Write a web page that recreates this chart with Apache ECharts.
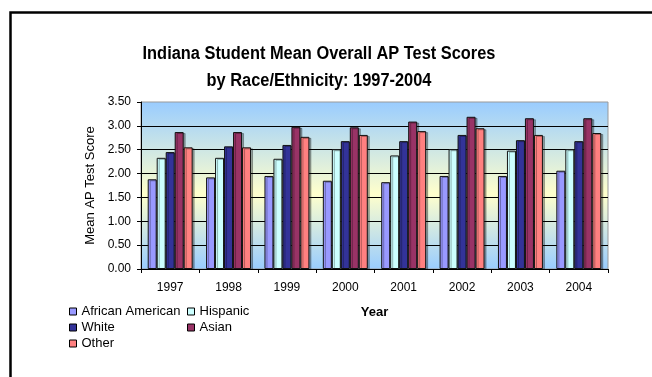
<!DOCTYPE html>
<html>
<head>
<meta charset="utf-8">
<script src="https://cdn.jsdelivr.net/npm/echarts@6/dist/echarts.min.js"></script>
<style>
html,body{margin:0;padding:0;background:#fff;}
#c{width:652px;height:377px;}
</style>
</head>
<body>
<div id="c"></div>
<script>
var years = ['1997','1998','1999','2000','2001','2002','2003','2004'];
var africanAmerican = [1.88, 1.92, 1.95, 1.85, 1.82, 1.95, 1.95, 2.06];
var hispanic        = [2.33, 2.33, 2.31, 2.51, 2.38, 2.51, 2.48, 2.51];
var white           = [2.45, 2.57, 2.60, 2.68, 2.68, 2.81, 2.70, 2.68];
var asian           = [2.87, 2.87, 2.98, 2.97, 3.09, 3.19, 3.16, 3.16];
var other           = [2.55, 2.55, 2.77, 2.81, 2.89, 2.95, 2.81, 2.85];
var seriesNames = ['African American','Hispanic','White','Asian','Other'];
var yTicks = ['0.00','0.50','1.00','1.50','2.00','2.50','3.00','3.50'];
var titleLines = ['Indiana Student Mean Overall AP Test Scores', 'by Race/Ethnicity: 1997-2004'];

var colors = ['#9999FF','#CCFFFF','#333399','#993366','#FF8080'];
var values = [africanAmerican, hispanic, white, asian, other];
var font = 'Liberation Sans, Arial, sans-serif';

var chart = echarts.init(document.getElementById('c'));
var series = seriesNames.map(function(n, i){
  return {
    name: n, type: 'bar', data: values[i],
    barGap: '0%', barCategoryGap: '23%',
    itemStyle: {color: colors[i], borderColor: '#111', borderWidth: 1,
      shadowColor: 'rgba(0,0,0,0.3)', shadowBlur: 0, shadowOffsetX: 2, shadowOffsetY: 1},
    emphasis: {disabled: true}
  };
});
var legendCommon = {
  orient: 'vertical', itemWidth: 7, itemHeight: 7, itemGap: 3,
  icon: 'rect',
  textStyle: {fontFamily: font, fontSize: 13, color: '#000'},
  itemStyle: {borderColor: '#000', borderWidth: 1},
  padding: 0
};
chart.setOption({
  animation: false,
  textStyle: {fontFamily: font},
  legend: [
    Object.assign({}, legendCommon, {data: ['African American','White','Other'], left: 69, top: 305}),
    Object.assign({}, legendCommon, {data: ['Hispanic','Asian'], left: 187, top: 305})
  ],
  grid: {
    left: 141, right: 44, top: 102, bottom: 108,
    show: true, borderColor: '#999', borderWidth: 1,
    backgroundColor: new echarts.graphic.LinearGradient(0,0,0,1,[
      {offset: 0, color: '#99CCFF'},
      {offset: 0.55, color: '#FFFFCC'},
      {offset: 1, color: '#99CCFF'}
    ])
  },
  xAxis: {
    type: 'category', data: years,
    name: 'Year', nameLocation: 'middle', nameGap: 37,
    nameTextStyle: {fontFamily: font, fontSize: 13, fontWeight: 'bold', color: '#000'},
    axisLine: {lineStyle: {color: '#000', width: 1}},
    axisTick: {show: true, length: 4, alignWithLabel: false, lineStyle: {color: '#000'}},
    axisLabel: {fontFamily: font, fontSize: 12, color: '#000', margin: 13}
  },
  yAxis: {
    type: 'value', min: 0, max: 3.5, interval: 0.5,
    name: 'Mean AP Test Score', nameLocation: 'middle', nameGap: 40,
    nameTextStyle: {fontFamily: font, fontSize: 13, color: '#000'},
    axisLine: {show: true, lineStyle: {color: '#000', width: 1}},
    axisTick: {show: true, length: 4, lineStyle: {color: '#000'}},
    axisLabel: {fontFamily: font, fontSize: 12, color: '#000', margin: 10,
      formatter: function(v){ return yTicks[Math.round(v/0.5)]; }},
    splitLine: {show: true, showMaxLine: false, lineStyle: {color: '#000', width: 1}}
  },
  graphic: [{
    type: 'rect', left: 8, top: 10, z: 100,
    shape: {x: 0, y: 0, width: 700, height: 500},
    style: {fill: 'none', stroke: '#000', lineWidth: 2.5}
  }, {
    type: 'text', x: 319, y: 54, scaleX: 0.91, z: 100,
    style: {text: titleLines[0], font: 'bold 18px ' + font, fill: '#000', textAlign: 'center', textVerticalAlign: 'middle'}
  }, {
    type: 'text', x: 319, y: 81, scaleX: 0.91, z: 100,
    style: {text: titleLines[1], font: 'bold 18px ' + font, fill: '#000', textAlign: 'center', textVerticalAlign: 'middle'}
  }],
  series: series
});
</script>
</body>
</html>
